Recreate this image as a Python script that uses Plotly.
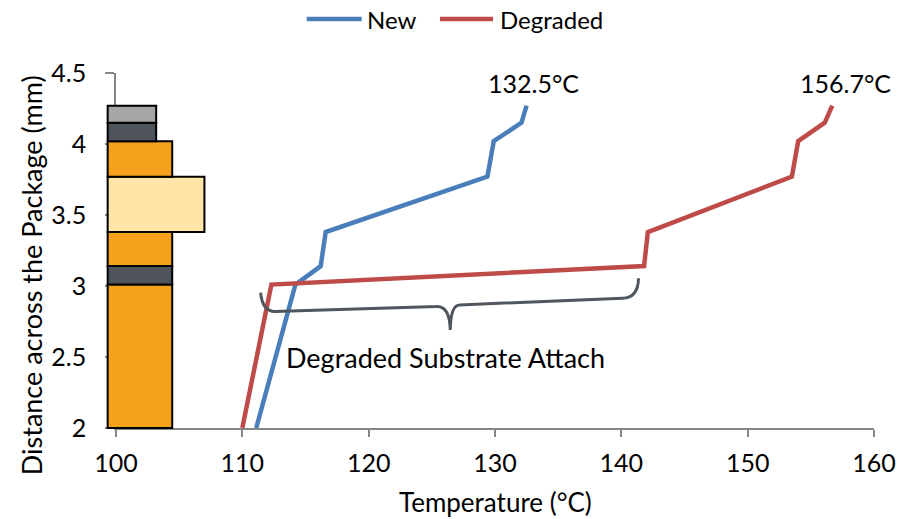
import plotly.graph_objects as go

# ---------------- data ----------------
distance_mm = [2.0, 3.01, 3.14, 3.38, 3.77, 4.02, 4.15, 4.27]
new_temp = [111.1, 114.2, 116.2, 116.6, 129.4, 129.9, 132.1, 132.5]
degraded_temp = [110.0, 112.3, 141.8, 142.1, 153.5, 154.0, 156.1, 156.7]
series_names = ["New", "Degraded"]

x_ticks = [100, 110, 120, 130, 140, 150, 160]
y_ticks = [2, 2.5, 3, 3.5, 4, 4.5]
y_ticktext = ["2", "2.5", "3", "3.5", "4", "4.5"]

# package stack (layers, bottom to top)
layer_bottom = [2.0, 3.01, 3.14, 3.38, 3.77, 4.02, 4.15]
layer_top = [3.01, 3.14, 3.38, 3.77, 4.02, 4.15, 4.27]
layer_right = [104.45, 104.45, 104.45, 107.0, 104.45, 103.18, 103.18]
layer_left = 99.34
layer_colors = ["#F5A11C", "#4F545C", "#F5A11C", "#FFE6A8", "#F5A11C", "#4F545C", "#A6A6A6"]

max_labels = ["132.5°C", "156.7°C"]

X_RANGE = [100, 160]
Y_RANGE = [2, 4.5]
FONT = "Lato"
BLUE = "#4A7EBB"
RED = "#BE4B48"
AXIS = "#868686"


def xp(v):
    return (v - X_RANGE[0]) / (X_RANGE[1] - X_RANGE[0])


def yp(v):
    return (v - Y_RANGE[0]) / (Y_RANGE[1] - Y_RANGE[0])


fig = go.Figure()
fig.add_trace(go.Scatter(x=new_temp, y=distance_mm, mode="lines", name=series_names[0],
                         line=dict(color=BLUE, width=4.5), showlegend=False))
fig.add_trace(go.Scatter(x=degraded_temp, y=distance_mm, mode="lines", name=series_names[1],
                         line=dict(color=RED, width=4.5), showlegend=False))

shapes = []
for b, t, r, c in zip(layer_bottom, layer_top, layer_right, layer_colors):
    shapes.append(dict(type="rect", xref="paper", yref="paper",
                       x0=xp(layer_left), x1=xp(r), y0=yp(b), y1=yp(t),
                       fillcolor=c, line=dict(color="black", width=2), layer="above"))

# curly brace
brace = ("M 111.45,2.954 Q 111.56,2.825 112.58,2.82 L 125.36,2.855 "
         "Q 126.41,2.86 126.46,2.691 Q 126.49,2.867 127.2,2.867 "
         "L 140.09,2.914 Q 141.33,2.916 141.36,3.055")
shapes.append(dict(type="path", xref="x", yref="y", path=brace,
                   line=dict(color="#50565E", width=3)))

# legend (drawn manually to get Excel-like sample lengths)
LEG_Y = 1.152
leg_items = [(0.2516, 0.3241, 0.329, BLUE), (0.4274, 0.4974, 0.5045, RED)]
annotations = []
for name, (lx0, lx1, tx, col) in zip(series_names, leg_items):
    shapes.append(dict(type="line", xref="paper", yref="paper", x0=lx0, x1=lx1,
                       y0=LEG_Y, y1=LEG_Y, line=dict(color=col, width=4.5)))
    annotations.append(dict(xref="paper", yref="paper", x=tx, y=LEG_Y, text=name,
                            showarrow=False, xanchor="left", yanchor="middle",
                            font=dict(family=FONT, size=24, color="black")))

annotations += [
    dict(x=new_temp[-1], y=distance_mm[-1], text=max_labels[0], showarrow=False,
         xanchor="center", yanchor="bottom", xshift=7, yshift=6,
         font=dict(family=FONT, size=25, color="black")),
    dict(x=degraded_temp[-1], y=distance_mm[-1], text=max_labels[1], showarrow=False,
         xanchor="center", yanchor="bottom", xshift=13, yshift=6,
         font=dict(family=FONT, size=25, color="black")),
    dict(x=126.1, y=2.5, text="Degraded Substrate Attach", showarrow=False,
         xanchor="center", yanchor="middle",
         font=dict(family=FONT, size=27, color="black")),
    dict(xref="paper", yref="paper", x=0.5, y=-0.208, text="Temperature (°C)",
         showarrow=False, xanchor="center", yanchor="middle",
         font=dict(family=FONT, size=26, color="black")),
    dict(xref="paper", yref="paper", x=-0.1105, y=0.431, text="Distance across the Package (mm)",
         showarrow=False, xanchor="center", yanchor="middle", textangle=-90,
         font=dict(family=FONT, size=27, color="black")),
]

fig.update_layout(
    width=908, height=519,
    margin=dict(l=116, r=34, t=73, b=91, autoexpand=False),
    paper_bgcolor="white", plot_bgcolor="white",
    font=dict(family=FONT, size=24, color="black"),
    showlegend=False,
    hovermode=False,
    shapes=shapes,
    annotations=annotations,
    xaxis=dict(range=X_RANGE, tickvals=x_ticks, showgrid=False, zeroline=False,
               showline=True, linecolor=AXIS, linewidth=1.5, automargin=False,
               ticks="outside", ticklen=7, tickcolor=AXIS, tickwidth=1.5,
               tickfont=dict(family=FONT, size=25), ticklabelstandoff=5),
    yaxis=dict(range=Y_RANGE, tickvals=y_ticks, ticktext=y_ticktext,
               showgrid=False, zeroline=False, automargin=False,
               showline=True, linecolor=AXIS, linewidth=1.5,
               ticks="outside", ticklen=9, tickcolor=AXIS, tickwidth=1.5,
               tickfont=dict(family=FONT, size=25), ticklabelstandoff=14),
)

# remove the default page margin so the 908x519 figure fills the window exactly
fig.write_html("out.html", config={"displayModeBar": False},
               post_script="document.body.style.margin='0';document.body.style.overflow='hidden';")
